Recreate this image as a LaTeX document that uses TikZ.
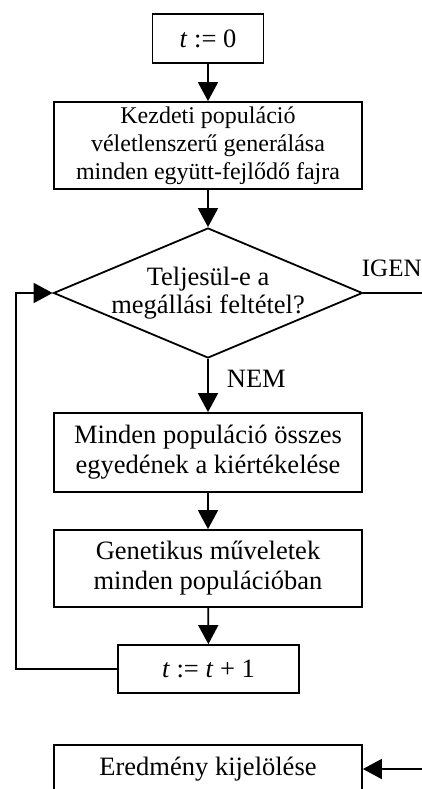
\documentclass[tikz,border=0pt]{standalone}
\usepackage{fontspec}
\setmainfont{Liberation Serif}
\usetikzlibrary{arrows.meta,shapes.geometric}
\begin{document}
\begin{tikzpicture}[x=1pt,y=-1pt,line width=1.8pt,
  >={Triangle[width=20pt,length=19pt]},
  every node/.style={font=\fontsize{24}{28}\selectfont},
  big/.style={font=\fontsize{26.5}{30}\selectfont},
  box/.style={draw,rectangle,inner sep=0pt,align=center},
  lbl/.style={anchor=base west,inner sep=0pt}]
\useasboundingbox (0,0) rectangle (422,789);
\node[box,big,minimum width=111pt,minimum height=49pt] (n0) at (208,38.5) {\textit{t} := 0};
\node[box,minimum width=308pt,minimum height=87pt] (n1) at (208,145.5) {Kezdeti populáció\\véletlenszerű generálása\\minden együtt-fejlődő fajra};
\node[draw,diamond,minimum width=309pt,minimum height=130pt,inner sep=0pt,
  label={[align=center,font=\fontsize{26.5}{27.5}\selectfont]center:{Teljesül-e a\\megállási feltétel?}}] (d) at (208,293) {};
\node[box,big,minimum width=308pt,minimum height=79pt] (n3) at (208,452.5) {Minden populáció összes\\egyedének a kiértékelése};
\node[box,big,minimum width=308pt,minimum height=77pt] (n4) at (208,568.5) {Genetikus műveletek\\minden populációban};
\node[box,big,minimum width=181pt,minimum height=48pt] (n5) at (208.5,669) {\textit{t} := \textit{t} + 1};
\node[box,big,minimum width=308pt,minimum height=48pt] (n6) at (208,769) {Eredmény kijelölése};
\node[lbl,font=\fontsize{25}{28}\selectfont] (igen) at (361,276) {IGEN};
\node[lbl,big] (nem) at (226,387) {NEM};
\coordinate (lp) at (16,669);
\coordinate (rp) at (450,293);
\draw[->] (n0) -- (n1);
\draw[->] (n1) -- (d);
\draw[->] (d) -- (n3);
\draw[->] (n3) -- (n4);
\draw[->] (n4) -- (n5);
\draw[->] (n5.west) -- (lp) |- (d.west);
\draw[->] (d.east) -- (rp) |- (n6.east);
\end{tikzpicture}
\end{document}
